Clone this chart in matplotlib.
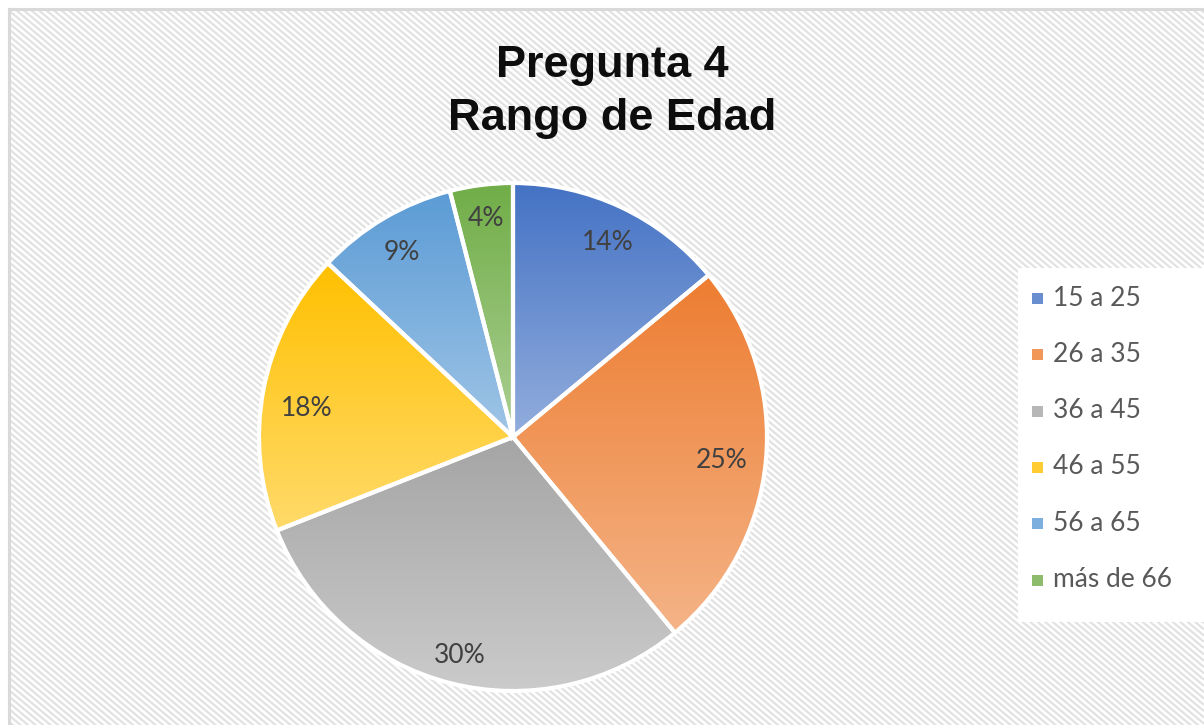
import matplotlib.pyplot as plt
import numpy as np
from matplotlib.collections import LineCollection
from matplotlib.colors import to_rgb
from matplotlib.patches import Rectangle

categories = ["15 a 25", "26 a 35", "36 a 45", "46 a 55", "56 a 65", "más de 66"]
percent = [14, 25, 30, 18, 9, 4]
colors = ["#4472C4", "#ED7D31", "#A5A5A5", "#FFC000", "#5B9BD5", "#70AD47"]
title_lines = ["Pregunta 4", "Rango de Edad"]

# label placement (radius fraction, angle in degrees), Excel "best fit"-like
label_pos = [(0.854, 64.0), (0.828, -6.3), (0.887, -103.6),
             (0.819, 172.0), (0.849, 121.0), (0.865, 97.1)]

W, H = 1204, 725
plt.rcParams["font.family"] = ["Lato", "DejaVu Sans"]

fig = plt.figure(figsize=(W / 100, H / 100), dpi=100)


def fx(px):
    return px / W


def fy(py):
    return 1 - py / H


def lighter(c, t):
    r = np.array(to_rgb(c))
    return r + (1 - r) * t


# diagonal stripe pattern of the chart area (pixel space, y downwards)
k = np.tan(np.radians(40))
step = 7.5 * k
segs = []
for c in np.arange(-k * W, H + step, step):
    segs.append([(fx(0), fy(c)), (fx(W), fy(c + k * W))])
stripes = LineCollection(segs, colors="#e2e2e2", linewidths=1.6,
                         transform=fig.transFigure, zorder=-2)
clip = Rectangle((fx(10), 0), 1, fy(10), transform=fig.transFigure)
stripes.set_clip_path(clip)
fig.add_artist(stripes)
fig.add_artist(plt.Line2D([fx(9), fx(9)], [0, fy(9)], color="#d9d9d9",
                          lw=2.2, transform=fig.transFigure, zorder=-1))
fig.add_artist(plt.Line2D([fx(9), 1], [fy(9), fy(9)], color="#d9d9d9",
                          lw=2.2, transform=fig.transFigure, zorder=-1))

# pie
R = 254
cx, cy = 513, 437
m = 1.1
ax = fig.add_axes([fx(cx - m * R), fy(cy + m * R), 2 * m * R / W, 2 * m * R / H])
ax.patch.set_visible(False)
wedges, _, autotexts = ax.pie(
    percent, colors=colors, startangle=90, counterclock=False,
    autopct="%.0f%%", pctdistance=0.85,
    wedgeprops=dict(edgecolor="white", linewidth=3),
    textprops=dict(color="#404040", fontsize=19))
ax.set_xlim(-m, m)
ax.set_ylim(-m, m)
ax.set_aspect("equal")
ax.set_autoscale_on(False)
ax.axis("off")

# vertical gradient inside every slice
for w, c in zip(wedges, colors):
    ext = w.get_path().get_extents()
    top, bot = lighter(c, 0.0), lighter(c, 0.42)
    t = np.linspace(0, 1, 256)[:, None]
    grad = (top[None, :] * (1 - t) + bot[None, :] * t)[:, None, :]
    im = ax.imshow(grad, extent=(ext.x0, ext.x1, ext.y0, ext.y1),
                   origin="upper", aspect="auto", zorder=1,
                   interpolation="bilinear")
    im.set_clip_path(w)
    w.set_facecolor("none")
    w.set_zorder(2)
for txt, (r, a) in zip(autotexts, label_pos):
    txt.set_position((r * np.cos(np.radians(a)), r * np.sin(np.radians(a))))
    txt.set_zorder(3)

# title
fig.text(fx(612), fy(77), title_lines[0], ha="center", va="baseline",
         fontsize=32.5, fontweight="bold", family="Liberation Sans", color="#0d0d0d")
fig.text(fx(612), fy(130), title_lines[1], ha="center", va="baseline",
         fontsize=32.5, fontweight="bold", family="Liberation Sans", color="#0d0d0d")

# legend
fig.patches.append(Rectangle((fx(1018), fy(622)), 1, fy(268) - fy(622),
                             transform=fig.transFigure, facecolor="white",
                             edgecolor="none", zorder=1))
for i, (lab, c) in enumerate(zip(categories, colors)):
    yc = 298 + i * 56.3
    fig.patches.append(Rectangle((fx(1032), fy(yc + 6)), 11 / W, 11 / H,
                                 transform=fig.transFigure,
                                 facecolor=lighter(c, 0.2), edgecolor="none",
                                 zorder=2))
    fig.text(fx(1053), fy(yc), lab, ha="left", va="center", fontsize=19,
             color="#595959", zorder=3)

fig.savefig("out.png", dpi=100)
